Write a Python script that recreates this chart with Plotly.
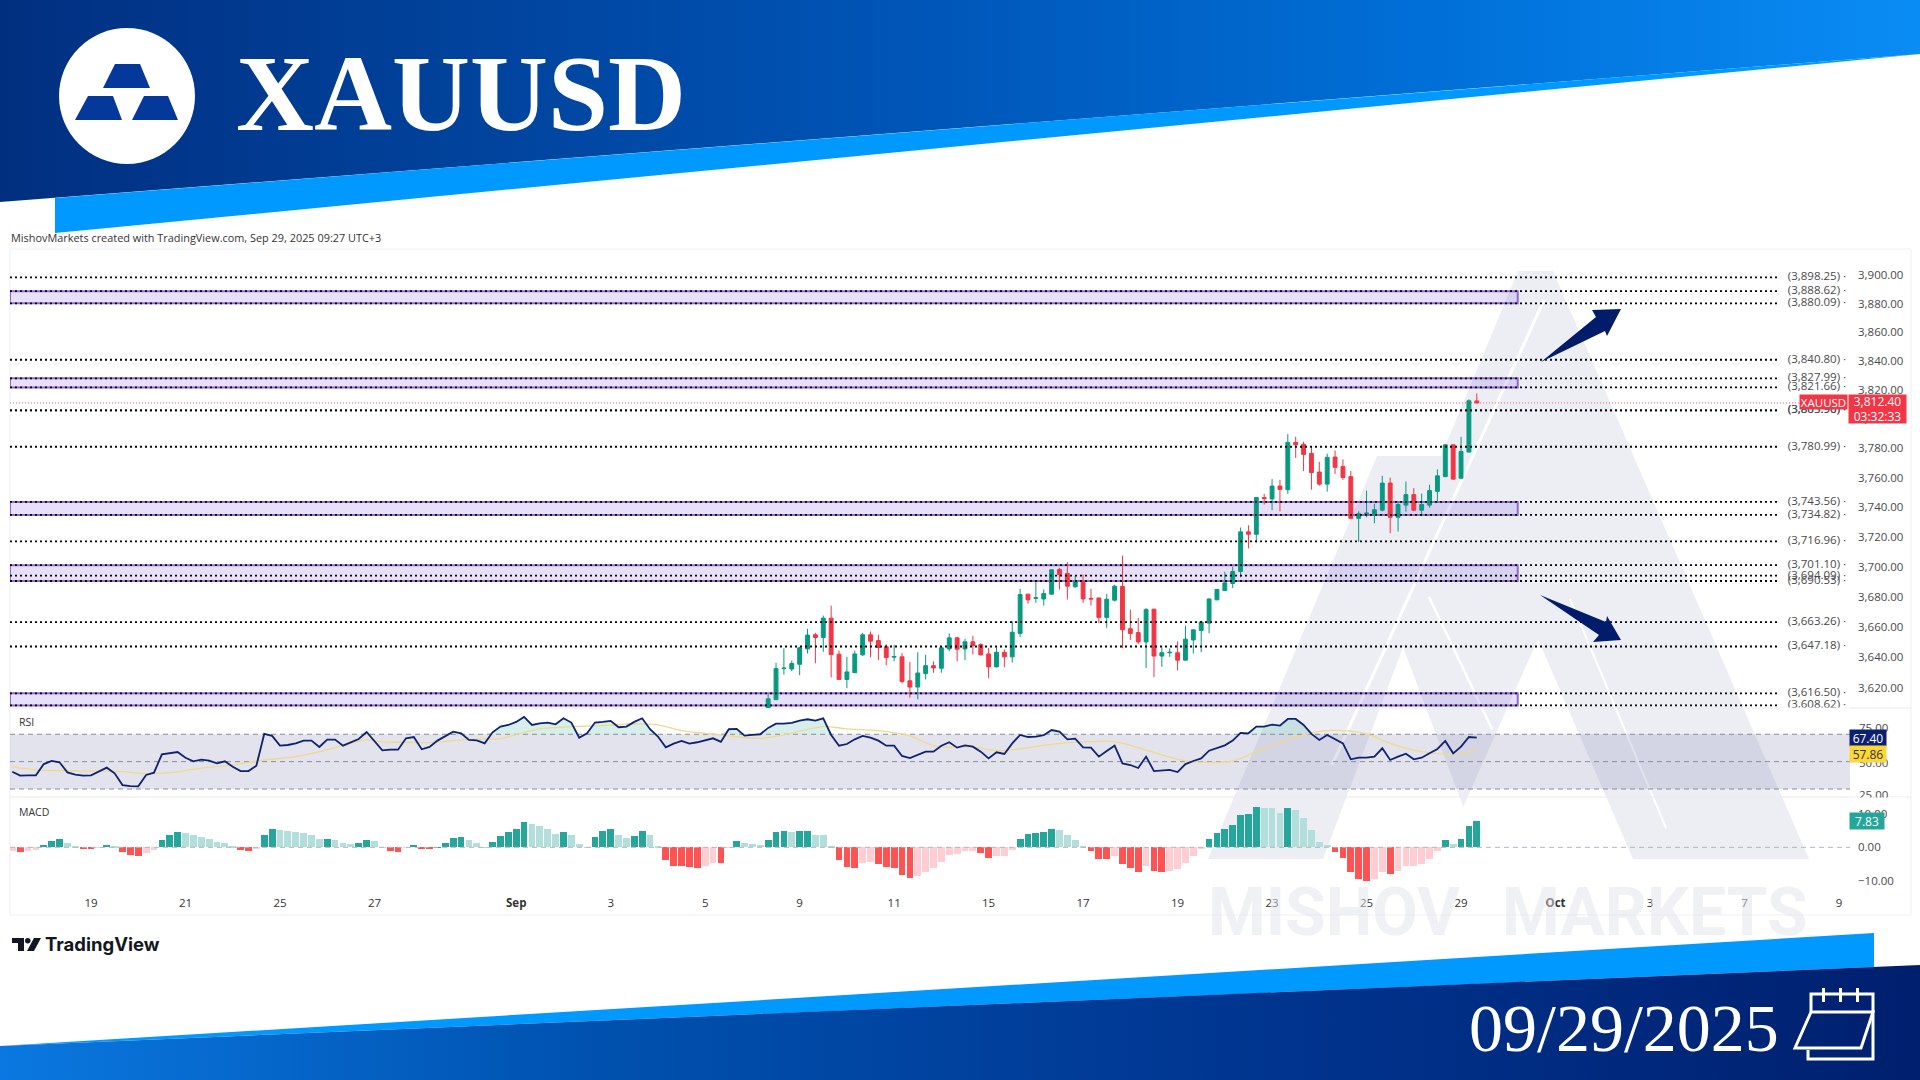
import plotly.graph_objects as go

W, H = 1920, 1080

# x axis is a plain bar counter (4h bars), bar 0 sits under the "19" label
x_ticks = [0, 12, 24, 36, 54, 66, 78, 90, 102, 114, 126, 138, 150, 162, 174, 186, 198, 210, 222]
x_tick_labels = ["19", "21", "25", "27", "<b>Sep</b>", "3", "5", "9", "11", "15", "17", "19", "23", "25", "29",
                 "<b>Oct</b>", "3", "7", "9"]

first_candle = 86
opens = [3600, 3612.4, 3632.7, 3632.4, 3635.5, 3645.6, 3654.9, 3653.1, 3665.9, 3642.1, 3625.6, 3630, 3641.7, 3654.9,
         3651.1, 3647, 3640.2, 3640.4, 3624.7, 3620.6, 3629.4, 3634.6, 3632.9, 3645.6, 3652.9, 3645.6, 3650.3, 3648.5,
         3642.3, 3633.8, 3643.4, 3640.4, 3655.8, 3681.8, 3679, 3678.6, 3681.8, 3698.2, 3695.5, 3686.7, 3690, 3679,
         3679.3, 3666.4, 3677.8, 3686.9, 3658.9, 3656.4, 3650.2, 3671.8, 3640.9, 3643.1, 3643.1, 3638.2, 3651.5,
         3657.8, 3662.6, 3678, 3684.2, 3688.9, 3696.9, 3723.4, 3721.8, 3746.5, 3745.6, 3754.3, 3751.8, 3784, 3782.7,
         3776.5, 3763.8, 3755.6, 3774, 3767.6, 3760.7, 3732.5, 3735.4, 3734.7, 3738, 3756.3, 3733.2, 3741.4, 3748.5,
         3738, 3741.4, 3750.7, 3760.7, 3782.3, 3759.6, 3777.4, 3812.4]
highs = [3616, 3636.4, 3645.9, 3638, 3647, 3658.8, 3656.2, 3667.6, 3674.2, 3644.5, 3640.4, 3644.5, 3656.2, 3657.1,
         3654.9, 3648.7, 3648.3, 3642.8, 3637, 3643.4, 3641.7, 3637.3, 3647, 3655.8, 3653.6, 3652.2, 3654.2, 3649.2,
         3646.3, 3646.7, 3645.2, 3663.9, 3685.3, 3681.8, 3689.8, 3684.9, 3698.6, 3699.3, 3703.1, 3693.8, 3694.9,
         3685.3, 3679.3, 3682, 3688, 3707.5, 3671.5, 3666, 3672.6, 3672.2, 3646.6, 3646, 3650.6, 3660.9, 3658.2,
         3664.2, 3679, 3684.9, 3696.6, 3700, 3726.3, 3727.8, 3746.5, 3749, 3759, 3758.5, 3789.6, 3787.8, 3784.5,
         3780.7, 3770.7, 3776.3, 3778.5, 3772.3, 3764.5, 3737.2, 3751.2, 3742.3, 3761.2, 3760, 3744.1, 3757.4, 3752.9,
         3749.2, 3755.2, 3765.6, 3783, 3782.5, 3787.8, 3813.5, 3817.5]
lows = [3598, 3612.2, 3628.7, 3631.1, 3628.3, 3642.6, 3636.2, 3643.7, 3626.9, 3625.4, 3619.9, 3629.8, 3640.8, 3640.1,
        3638.2, 3634.9, 3637.5, 3623, 3613.7, 3612.6, 3625.6, 3630, 3630, 3644.1, 3637.5, 3638.2, 3641.9, 3641.2,
        3626.3, 3633.5, 3633.5, 3636.6, 3653.5, 3675.5, 3676, 3674.2, 3681.5, 3684.9, 3678.2, 3686, 3676, 3674.2,
        3662.6, 3659.5, 3676.9, 3646, 3651.5, 3648.9, 3633.1, 3627.1, 3633.8, 3640.4, 3631.5, 3638.2, 3642.6, 3643.5,
        3656, 3677.8, 3683.8, 3685.8, 3693, 3712.3, 3716.3, 3741.8, 3738, 3737.2, 3749, 3773.4, 3764.5, 3751.8,
        3754.5, 3750.5, 3762.5, 3758.5, 3732.5, 3716.7, 3733.2, 3729.2, 3737.2, 3722.5, 3723.6, 3737, 3737.4, 3734.5,
        3739.6, 3743, 3760.3, 3758.5, 3759.4, 3777.2, 3811]
closes = [3612.9, 3632.7, 3633, 3636, 3646.3, 3654.7, 3653.1, 3665.9, 3641.9, 3625.6, 3630.5, 3642.3, 3654.9, 3650.7,
          3646.5, 3639.9, 3640.6, 3624.3, 3620.6, 3629.8, 3634.6, 3633.1, 3646.3, 3652.9, 3645.4, 3650.3, 3647.8,
          3641.7, 3633.8, 3643.4, 3640.4, 3656.6, 3681.5, 3678, 3679.4, 3682.2, 3698, 3694.9, 3687.1, 3690, 3678.6,
          3678.6, 3666.4, 3678.4, 3687.1, 3658.2, 3655.8, 3650.2, 3671.5, 3640.9, 3643.1, 3643.4, 3638.2, 3652, 3658.2,
          3663.3, 3678.6, 3684.9, 3689.3, 3696.9, 3723.4, 3721.8, 3746.5, 3745.8, 3754.3, 3752, 3784, 3782.3, 3775.8,
          3763.4, 3755.6, 3773.8, 3767, 3760.1, 3732.5, 3735.6, 3736, 3738.3, 3756.3, 3733.2, 3741.8, 3748.5, 3738,
          3741.8, 3751.2, 3761.2, 3782.3, 3759, 3777.8, 3812.5, 3811]

price_ticks = [3620, 3640, 3660, 3680, 3700, 3720, 3740, 3760, 3780, 3800, 3820, 3840, 3860, 3880, 3900]
levels = [3898.25, 3888.62, 3880.09, 3840.80, 3827.99, 3821.66, 3805.96, 3805.90, 3780.99, 3743.56, 3734.82, 3716.96,
          3701.10, 3694.09, 3690.53, 3663.26, 3647.18, 3616.50, 3608.62]
zones = [(3880.09, 3888.62), (3821.66, 3827.99), (3734.82, 3743.56), (3690.53, 3701.10), (3608.62, 3616.50)]
last_price = 3811

first_osc = -10
rsi = [40.8, 37.2, 37.5, 37.5, 47.8, 50.6, 49.4, 40.2, 38.1, 37.2, 37.5, 40.8, 44.5, 39.3, 28.6, 27.7, 27.4, 37.8,
       39.9, 56.7, 57.9, 58.8, 53.6, 50.3, 51.8, 50.9, 48.4, 50.3, 45.4, 41.4, 41.4, 46.3, 75.3, 73.5, 64.6, 65.2,
       66.7, 69.2, 69.2, 63.4, 70.1, 70.1, 64.6, 67.4, 70.7, 77.1, 68.6, 60.3, 60.9, 60.9, 71.3, 72.5, 61.3, 63.4,
       69.2, 73.5, 77.4, 75.9, 69.8, 69.5, 66.7, 76.8, 82.0, 83.5, 86.3, 90.8, 83.5, 85.0, 85.7, 84.1, 89.6, 85.7,
       71.9, 75.9, 85.7, 86.3, 87.2, 81.4, 82.0, 86.3, 89.6, 79.6, 72.9, 63.1, 66.4, 68.9, 66.4, 67.7, 69.8, 71.3,
       68.0, 79.6, 79.9, 73.8, 74.4, 75.0, 80.8, 84.7, 84.7, 85.4, 87.5, 88.7, 87.5, 89.6, 74.4, 64.6, 66.1, 70.4,
       73.5, 71.9, 69.2, 64.6, 64.6, 55.2, 53.3, 56.4, 59.1, 59.1, 64.6, 67.7, 62.8, 64.9, 63.7, 59.1, 53.0, 58.5,
       57.0, 66.7, 74.4, 72.5, 72.9, 74.1, 78.9, 77.4, 70.4, 71.0, 63.1, 62.8, 54.6, 59.7, 64.6, 48.4, 46.9, 44.2,
       54.6, 41.4, 41.7, 42.4, 40.5, 47.8, 50.6, 53.0, 60.0, 62.8, 64.9, 69.2, 76.2, 75.9, 82.0, 82.0, 83.8, 82.9,
       89.0, 89.0, 83.5, 75.3, 69.8, 74.4, 70.4, 66.7, 52.1, 53.6, 53.6, 54.6, 62.2, 51.5, 54.6, 57.3, 52.1, 53.6,
       57.6, 61.6, 68.9, 57.6, 63.7, 72.5, 72.0]
rsi_ma_bars = [-10, -7, -3, 1, 4, 7, 10, 13, 16, 18, 22, 26, 29, 32, 35, 37, 40, 43, 48, 52, 54, 57, 61, 64, 69, 72,
               75, 78, 81, 85, 88, 93, 96, 100, 104, 107, 110, 112, 115, 118, 121, 124, 127, 130, 134, 139, 142, 145,
               149, 154, 156, 159, 162, 165, 169, 173, 176]
rsi_ma = [45.4, 42.4, 41.7, 41.4, 40.8, 39.0, 39.9, 43.0, 45.4, 46.9, 51.5, 54.6, 59.1, 64.6, 69.8, 68.0, 67.7, 67.4,
          70.4, 71.0, 74.7, 79.9, 82.0, 82.6, 84.4, 83.5, 78.3, 75.9, 73.5, 71.3, 74.4, 82.0, 79.9, 78.3, 73.5, 64.6,
          63.1, 63.4, 60.0, 61.6, 64.9, 67.4, 68.3, 68.3, 60.6, 50.6, 49.4, 50.6, 62.2, 74.4, 77.7, 78.3, 75.3, 66.7,
          59.1, 56.7, 60.3]
rsi_guides = [25, 50, 75]

macd_hist = [-1.0, -1.3, -1.2, -0.9, 0.7, 1.8, 2.4, 1.2, 0.3, -0.4, -0.5, -0.1, 0.7, 0.3, -1.5, -2.4, -2.7, -1.8, -0.8,
             2.2, 3.8, 4.7, 4.3, 3.6, 3.0, 2.5, 1.5, 1.2, 0.3, -0.7, -1.0, -0.6, 3.8, 5.5, 5.2, 4.9, 4.7, 4.2, 3.8,
             2.5, 2.6, 2.3, 1.2, 1.0, 1.3, 2.1, 1.8, 0.1, -1.0, -1.5, -0.1, 0.8, -0.4, -0.6, 0.1, 1.3, 2.8, 3.0, 2.2,
             1.3, 0.1, 1.6,
             3.5, 4.7, 5.5, 7.5, 6.9, 6.3, 5.5, 3.9, 4.7, 3.8, 1.0, 0.1, 3.2, 5.0, 5.5, 3.8, 2.7, 3.3, 5.0, 3.6, 0.2,
             -3.8, -5.5, -5.6, -6.0, -6.1, -5.5, -4.7, -4.8, -0.1, 1.8, 1.4, 1.1, 0.6, 2.1, 4.6, 4.9, 4.7, 4.9, 5.0,
             3.8, 3.8, 0.2, -3.8, -6.0, -6.1, -4.6, -4.5, -5.0, -6.0, -6.3, -8.4, -9.2, -8.6, -7.4, -6.2, -4.4, -2.4,
             -2.0, -1.2, -1.1, -1.8, -3.2, -2.6,
             -2.5, -0.9, 2.6, 4.1, 4.4, 4.5, 5.5, 5.2, 3.8, 2.3, 0.2, -1.2, -3.5, -3.6, -2.6, -5.0, -6.2, -7.5, -5.5,
             -7.2, -7.5, -7.0, -6.6, -4.6, -2.7, -0.6, 2.4, 4.4, 5.5, 6.6, 9.7, 10.0, 12.0, 11.9, 11.7, 10.3, 11.8,
             11.2, 8.8, 5.2, 1.5, 0.6, -1.3, -3.2, -7.5, -9.5, -10.0, -9.6, -7.5, -8.0, -7.2, -5.7, -5.5, -5.0, -3.5,
             -1.2, 2.2, 1.0, 2.6, 6.5, 7.8]
macd_ticks = [-10, 0, 10]

GREEN = "#089981"
RED = "#f23645"
NAVY = "#0f2270"
TEXT = "#4a4a4a"
FONT = "Open Sans"
SERIF = "Liberation Serif"

# where the bars sit on the page
X_LEFT = -10.29
X_RIGHT = 223.4
LEVEL_END = 214.5
LABEL_AT = 215.5
ZONE_END = 181.2


def px(x):
    return x / W


def py(y):
    return 1 - y / H


def poly(points, color, layer="below"):
    path = "M " + " L ".join(f"{px(x):.5f},{py(y):.5f}" for x, y in points) + " Z"
    return dict(type="path", path=path, xref="paper", yref="paper", fillcolor=color, line_width=0, layer=layer)


def stroke(points, color, width, layer="below"):
    path = "M " + " L ".join(f"{px(x):.5f},{py(y):.5f}" for x, y in points)
    return dict(type="path", path=path, xref="paper", yref="paper", line=dict(color=color, width=width), layer=layer)


def label(x, y, text, size=11.5, color=TEXT, anchor="left", family=FONT, **kw):
    return dict(x=px(x), y=py(y), xref="paper", yref="paper", text=text, showarrow=False, xanchor=anchor,
                yanchor="middle", font=dict(family=family, size=size, color=color), **kw)


def tag(x0, x1, y0, y1, text, bg, color="white", size=12):
    return dict(x=px((x0 + x1) / 2), y=py((y0 + y1) / 2), xref="paper", yref="paper", text=text, showarrow=False,
                width=x1 - x0, height=y1 - y0, bgcolor=bg, borderpad=0, align="center", valign="middle",
                xanchor="center", yanchor="middle", font=dict(family=FONT, size=size, color=color))


def hist_color(values):
    out = []
    for i, v in enumerate(values):
        prev = values[i - 1] if i else v
        if v >= 0:
            out.append("#26a69a" if v > prev else "#b2dfdb")
        else:
            out.append("#ff5252" if v < prev else "#ffcdd2")
    return out


candle_bars = list(range(first_candle, first_candle + len(opens)))
osc_bars = list(range(first_osc, first_osc + len(rsi)))
macd_bars = list(range(first_osc, first_osc + len(macd_hist)))

fig = go.Figure()

# page furniture on a full page axis
top_dark = [(0, 0), (1920, 0), (1920, 54), (0, 202)]
top_cyan = [(55, 198), (1920, 54), (55, 233)]
bottom_cyan = [(0, 1046), (1874, 933), (1874, 967)]
bottom_dark = [(0, 1046), (1920, 965), (1920, 1080), (0, 1080)]
for pts, scale in [
    (top_dark, [[0, "#012f80"], [0.45, "#0053b4"], [0.75, "#0070d8"], [1, "#0a8cf5"]]),
    (top_cyan, None),
    (bottom_cyan, None),
    (bottom_dark, [[0, "#0a78e0"], [0.3, "#0052b0"], [0.65, "#003590"], [1, "#001f6e"]]),
]:
    kw = dict(fillgradient=dict(type="horizontal", colorscale=scale)) if scale else dict(fillcolor="#0099ff")
    fig.add_trace(go.Scatter(x=[p[0] for p in pts], y=[p[1] for p in pts], mode="lines", fill="toself",
                             line=dict(width=0), xaxis="x4", yaxis="y4", hoverinfo="skip", **kw))

# price pane
for lvl in levels:
    fig.add_trace(go.Scatter(x=[X_LEFT, LEVEL_END], y=[lvl, lvl], mode="lines", xaxis="x", yaxis="y",
                             line=dict(color="#000000", width=1.8, dash="2px,3px"), hoverinfo="skip"))
fig.add_trace(go.Scatter(x=[X_LEFT, X_RIGHT], y=[last_price, last_price], mode="lines", xaxis="x", yaxis="y",
                         line=dict(color=RED, width=0.8, dash="1px,2px"), hoverinfo="skip"))
fig.add_trace(go.Scatter(x=[LABEL_AT] * len(levels), y=levels, mode="text", xaxis="x", yaxis="y",
                         text=[f"({v:,.2f}) ·" for v in levels], textposition="middle right",
                         textfont=dict(family=FONT, size=11.5, color=TEXT), cliponaxis=True, hoverinfo="skip"))
fig.add_trace(go.Candlestick(x=candle_bars, open=opens, high=highs, low=lows, close=closes, xaxis="x", yaxis="y",
                             whiskerwidth=0,
                             increasing=dict(line=dict(color=GREEN, width=1), fillcolor=GREEN),
                             decreasing=dict(line=dict(color=RED, width=1), fillcolor=RED)))

# rsi pane
rsi_top = [max(v, 75) for v in rsi]
fig.add_trace(go.Scatter(x=osc_bars, y=[75] * len(rsi), mode="lines", line=dict(width=0), xaxis="x2", yaxis="y2",
                         hoverinfo="skip"))
fig.add_trace(go.Scatter(x=osc_bars, y=rsi_top, mode="lines", line=dict(width=0), fill="tonexty",
                         fillcolor="rgba(8,153,129,0.16)", xaxis="x2", yaxis="y2", hoverinfo="skip"))
for g in rsi_guides:
    fig.add_trace(go.Scatter(x=[X_LEFT, X_RIGHT], y=[g, g], mode="lines", xaxis="x2", yaxis="y2",
                             line=dict(color="#8a8c96", width=1, dash="5px,4px"), hoverinfo="skip"))
fig.add_trace(go.Scatter(x=rsi_ma_bars, y=rsi_ma, mode="lines", xaxis="x2", yaxis="y2",
                         line=dict(color="#f0d98c", width=1.3, shape="spline"), hoverinfo="skip"))
fig.add_trace(go.Scatter(x=osc_bars, y=rsi, mode="lines", xaxis="x2", yaxis="y2",
                         line=dict(color=NAVY, width=1.8), hoverinfo="skip"))

# macd pane
fig.add_trace(go.Scatter(x=[X_LEFT, X_RIGHT], y=[0, 0], mode="lines", xaxis="x3", yaxis="y3",
                         line=dict(color="#b4b6be", width=1, dash="5px,4px"), hoverinfo="skip"))
fig.add_trace(go.Bar(x=macd_bars, y=macd_hist, marker=dict(color=hist_color(macd_hist), line_width=0), width=0.86,
                     xaxis="x3", yaxis="y3", hoverinfo="skip"))

# watermark, drawn first so the panes tint it
WM = "#eceef4"
shapes = [
    poly([(1518, 271), (1553, 271), (1809, 859), (1208, 859), (1377, 456), (1441, 456)], WM),
    poly([(1403, 647), (1323, 859), (1483, 859)], "white"),
    poly([(1538, 639), (1440, 859), (1633, 859)], "white"),
    stroke([(1544, 300), (1332, 765)], "white", 3),
    stroke([(1429, 597), (1492, 729)], "white", 2.5),
    stroke([(1570, 599), (1666, 828)], "white", 2),
]
# chart frame and pane separators
shapes.append(dict(type="rect", xref="paper", yref="paper", x0=px(10), x1=px(1911), y0=py(915), y1=py(249),
                   line=dict(color="#eeeff2", width=1), fillcolor="rgba(0,0,0,0)", layer="below"))
for y in (708, 797):
    shapes.append(stroke([(10, y), (1911, y)], "#e9eaee", 1))
# zones
for lo, hi in zones:
    shapes.append(dict(type="rect", xref="x", yref="y", x0=X_LEFT, x1=ZONE_END, y0=lo, y1=hi, layer="below",
                       fillcolor="rgba(137,100,214,0.2)", line=dict(color="#8f68d6", width=2)))
# rsi band
shapes.append(dict(type="rect", xref="x2", yref="y2", x0=X_LEFT, x1=X_RIGHT, y0=rsi_guides[0], y1=rsi_guides[2],
                   layer="below", fillcolor="rgba(120,124,170,0.21)", line_width=0))
# arrows
shapes += [
    poly([(1541, 362), (1596, 317), (1592, 310), (1621, 309), (1607, 336), (1605, 331)], "#001c6b", "above"),
    poly([(1540, 595), (1606, 622), (1607, 616), (1621, 640), (1593, 642), (1599, 635)], "#001c6b", "above"),
]
# header logo
shapes.append(dict(type="circle", xref="paper", yref="paper", x0=px(59), x1=px(195), y0=py(164), y1=py(28),
                   fillcolor="white", line_width=0, layer="above"))
BAR = "#04389a"
shapes += [
    poly([(115, 64), (140, 64), (150, 88), (103, 88)], BAR, "above"),
    poly([(88, 96), (113, 96), (122, 120), (75, 120)], BAR, "above"),
    poly([(144, 96), (168, 96), (178, 120), (132, 120)], BAR, "above"),
]
# calendar icon
shapes += [
    stroke([(1811, 1012), (1811, 994), (1873, 994), (1873, 1059), (1808, 1059), (1808, 1050)], "white", 3, "above"),
    stroke([(1811, 1012), (1795, 1048), (1861, 1048), (1873, 1012), (1811, 1012)], "white", 3, "above"),
    stroke([(1823.5, 988), (1823.5, 1002)], "white", 3, "above"),
    stroke([(1840.5, 988), (1840.5, 1002)], "white", 3, "above"),
    stroke([(1857.5, 988), (1857.5, 1002)], "white", 3, "above"),
]
# TradingView mark
TV = "#131722"
shapes += [
    poly([(12, 938), (24, 938), (24, 951), (18, 951), (18, 943), (12, 943)], TV),
    poly([(34, 938), (41, 938), (34, 951), (27, 951)], TV),
    dict(type="circle", xref="paper", yref="paper", x0=px(25), x1=px(30.5), y0=py(943.5), y1=py(938),
         fillcolor=TV, line_width=0),
]

annotations = [
    label(1206, 912, "<b>MISHOV</b>", size=66, color="rgba(224,227,235,0.5)", family="Roboto"),
    label(1500, 912, "<b>MARKETS</b>", size=66, color="rgba(224,227,235,0.5)", family="Roboto"),
    label(234, 93, "<b>XAUUSD</b>", size=108, color="white", family=SERIF),
    label(1467, 1028, "09/29/2025", size=68, color="white", family=SERIF),
    label(9, 237, "MishovMarkets created with TradingView.com, Sep 29, 2025 09:27 UTC+3", size=10.9, color="#333333"),
    label(17, 722, "RSI", size=10.5, color="#333333"),
    label(17, 812, "MACD", size=10.5, color="#333333"),
    label(43, 944, "<b>TradingView</b>", size=18.5, color=TV, family="Inter"),
    label(1857, 727, "75.00"),
    label(1857, 762, "50.00"),
    label(1857, 794, "25.00"),
    # the panes cut these two labels in half
    tag(1780, 1849, 708, 714, "", "white"),
    tag(1852, 1905, 798, 803, "", "white"),
    tag(1800, 1847, 395, 409, "XAUUSD", RED, size=11.5),
    tag(1849, 1906, 395, 423, "3,812.40<br>03:32:33", RED),
    tag(1850, 1886, 730, 746, "67.40", "#0c1f73"),
    tag(1850, 1886, 746, 762, "57.86", "#fdd835", "#333333"),
    tag(1850, 1884, 813, 829, "7.83", "#26a69a"),
]

hidden = dict(visible=False)
pane_x = dict(range=[X_LEFT, X_RIGHT], domain=[px(10), px(1850)], showgrid=False, zeroline=False, showline=False,
              ticks="", fixedrange=True)
tick_font = dict(family=FONT, size=11.5, color=TEXT)

fig.update_layout(
    width=W,
    height=H,
    margin=dict(l=0, r=0, t=0, b=0),
    paper_bgcolor="white",
    plot_bgcolor="rgba(0,0,0,0)",
    showlegend=False,
    bargap=0,
    shapes=shapes,
    annotations=annotations,
    xaxis=dict(**pane_x, anchor="y", showticklabels=False, rangeslider=dict(visible=False)),
    yaxis=dict(domain=[py(708), py(249)], anchor="x", side="right", type="log", range=[3.55714, 3.59310],
               tickmode="array", tickvals=price_ticks, tickformat=",.2f", showgrid=False, zeroline=False,
               tickfont=tick_font, ticklabelstandoff=7, ticks=""),
    xaxis2=dict(**pane_x, anchor="y2", showticklabels=False),
    yaxis2=dict(domain=[py(797), py(708)], anchor="x2", side="right", range=[17.7, 99], showgrid=False,
                zeroline=False, showticklabels=False, ticks=""),
    xaxis3=dict(**pane_x, anchor="y3", tickmode="array", tickvals=x_ticks, ticktext=x_tick_labels,
                tickfont=dict(family=FONT, size=11.5, color="#333333"), ticklabelstandoff=4),
    yaxis3=dict(domain=[py(890), py(797)], anchor="x3", side="right", range=[-12.8, 15.1], showgrid=False,
                zeroline=False, tickmode="array", tickvals=macd_ticks, tickformat=".2f",
                tickfont=tick_font, ticklabelstandoff=7, ticks=""),
    xaxis4=dict(domain=[0, 1], range=[0, W], anchor="y4", **hidden),
    yaxis4=dict(domain=[0, 1], range=[H, 0], anchor="x4", **hidden),
)

fig.write_html("out.html", config={"displayModeBar": False},
               post_script="document.body.style.margin='0';document.documentElement.style.overflow='hidden';")
